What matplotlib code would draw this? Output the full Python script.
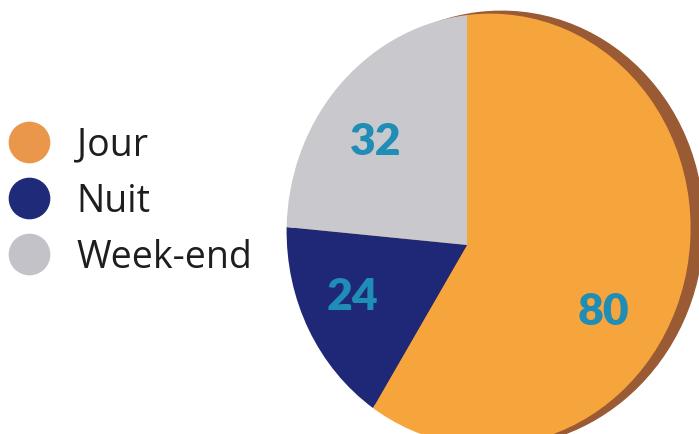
import matplotlib
matplotlib.use("Agg")
import numpy as np
import matplotlib.pyplot as plt
import matplotlib.transforms as mtransforms
from matplotlib.lines import Line2D
from matplotlib.patches import Ellipse

categories = ["Jour", "Nuit", "Week-end"]
values = [80, 24, 32]
colors = ["#F6A53C", "#1F2877", "#C9C9CD"]
legend_colors = ["#EA964B", "#1F2A78", "#C2C2C8"]

W, H = 699, 434
fig = plt.figure(figsize=(W / 100, H / 100), dpi=100)
fig.patch.set_facecolor("white")

# mild perspective (the original is a photographed, tilted pie)
CX, CY = 467, H - 245
SX, SY, G, HH = 199.2, 213.9, -0.1067, -0.0698


class Persp(mtransforms.Transform):
    input_dims = 2
    output_dims = 2
    is_affine = False

    def transform_non_affine(self, values):
        v = np.asarray(values, dtype=float)
        x, y = v[:, 0], v[:, 1]
        d = 1 + G * x + HH * y
        return np.column_stack([CX + SX * x / d, CY + SY * y / d])


persp = Persp()

ax = fig.add_axes([0, 0, 1, 1])
total = sum(values)
wedges, texts, autotexts = ax.pie(
    values, colors=colors, startangle=90, counterclock=False,
    radius=1.0, autopct=lambda p: f"{round(p * total / 100)}",
    textprops=dict(color="#1F8DB5", fontsize=32, fontweight="heavy", family="Lato"),
    wedgeprops=dict(linewidth=0),
)
shadow = Ellipse((0.05, 0.004), 2.0, 2.0, color="#9A5A34", zorder=0)
ax.add_patch(shadow)
shadow.set_transform(persp + ax.transData)
for w in wedges:
    w.set_zorder(1)
    w.set_transform(persp + ax.transData)

label_dist = [0.71, 0.67, 0.685]
label_rot = [-7.6, -4.7, 0.5]
for w, t, r, da in zip(wedges, autotexts, label_dist, label_rot):
    a = np.deg2rad((w.theta1 + w.theta2) / 2 + da)
    px, py = persp.transform(np.array([[r * np.cos(a), r * np.sin(a)]]))[0]
    t.set_position((px, py - 3))
    t.set_zorder(3)

ax.set_aspect("auto")
ax.set_xlim(0, W)
ax.set_ylim(0, H)
ax.axis("off")

handles = [Line2D([], [], marker="o", linestyle="none", markersize=29,
                  markerfacecolor=c, markeredgecolor=c) for c in legend_colors]
leg = fig.legend(handles, categories, loc="center left",
                 bbox_to_anchor=(10 / W, (H - 201.5) / H), frameon=False,
                 prop=dict(family="Open Sans", size=27), labelcolor="#1e1e1e",
                 handletextpad=0.78, labelspacing=0.48, handlelength=1.0,
                 borderaxespad=0.0, borderpad=0.0)

fig.savefig("out.png", dpi=100, facecolor="white")
